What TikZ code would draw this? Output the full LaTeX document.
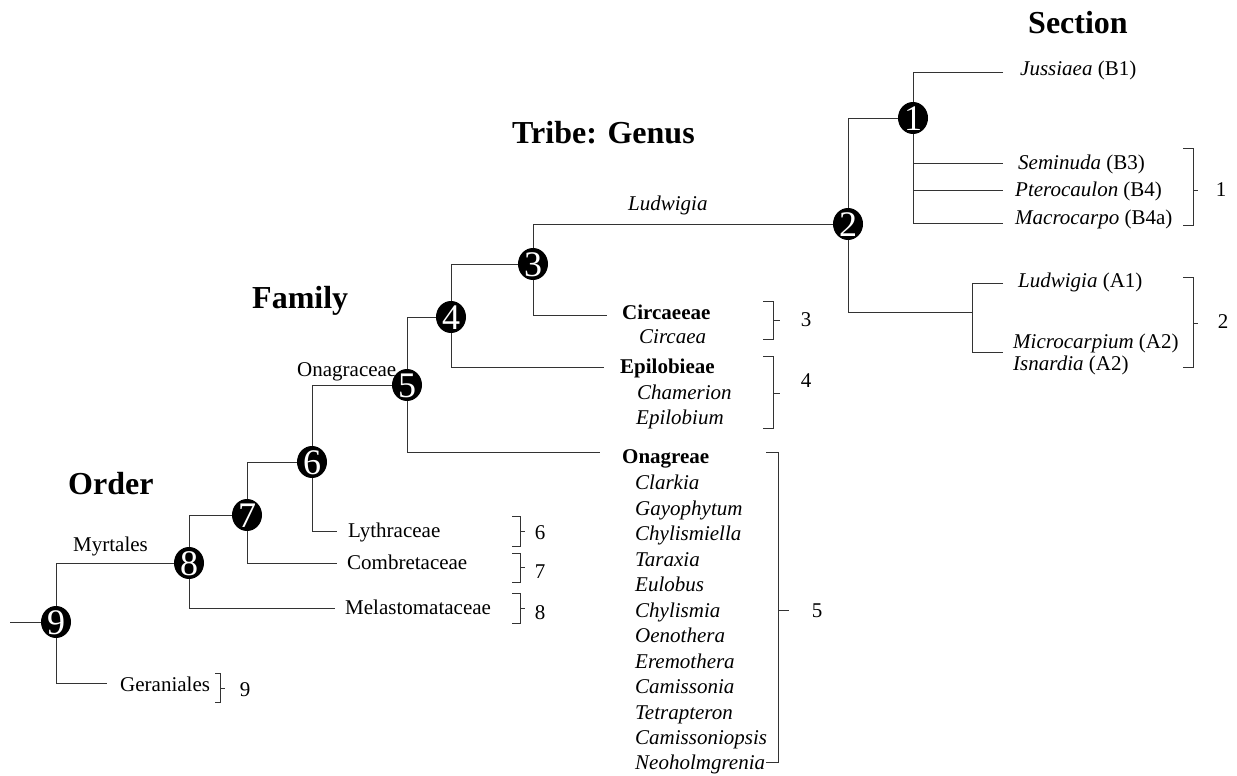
\documentclass[tikz,border=0pt]{standalone}
\usepackage{fontspec}
\setmainfont{Liberation Serif}
\usetikzlibrary{shapes.geometric}
\newcommand\cnum[1]{\smash{\makebox[0pt]{\raisebox{-0.34em}{#1}}}}
\begin{document}
\begin{tikzpicture}[x=1pt,y=-1pt,
  cl/.style={ellipse, fill=black, minimum width=30pt, minimum height=32pt, inner sep=0pt, text=white, font=\fontsize{36}{36}\selectfont},
  lab/.style={anchor=west, inner sep=0pt, text height=13.9pt, text depth=0pt, font=\fontsize{21}{25}\selectfont},
  labi/.style={lab, font=\fontsize{21}{25}\selectfont\itshape},
  labb/.style={lab, font=\fontsize{21}{25}\selectfont\bfseries},
  head/.style={lab, text height=21pt, font=\fontsize{32}{36}\selectfont\bfseries},
  numl/.style={anchor=center, inner sep=0pt, text height=14pt, text depth=0pt, font=\fontsize{21}{25}\selectfont},
  edge/.style={draw=black!80, line width=1pt},
  brk/.style={draw=black!80, line width=0.9pt}]
\useasboundingbox (0,0) rectangle (1237,776);

% headings
\node[head] (hsec) at (1028,23) {Section};
\node[head] (htri) at (512,133) {Tribe: Genus};
\node[head] (hfam) at (252,298) {Family};
\node[head] (hord) at (68,484) {Order};

% clade nodes
\node[cl] (n1) at (913,118) {\cnum{1}};
\node[cl] (n2) at (848,224) {\cnum{2}};
\node[cl] (n3) at (533,264) {\cnum{3}};
\node[cl] (n4) at (451,317) {\cnum{4}};
\node[cl] (n5) at (407,385) {\cnum{5}};
\node[cl] (n6) at (312,462) {\cnum{6}};
\node[cl] (n7) at (247,515) {\cnum{7}};
\node[cl] (n8) at (189,563) {\cnum{8}};
\node[cl] (n9) at (56,622) {\cnum{9}};

% branch ends
\coordinate (r0) at (10,622);
\coordinate (e9) at (107,683);
\coordinate (e8) at (335,608);
\coordinate (e7) at (337,563);
\coordinate (e6) at (337,531);
\coordinate (e5) at (600,452);
\coordinate (e4) at (604,367);
\coordinate (e3) at (607,315);
\coordinate (jA) at (972,312);
\coordinate (a1e) at (1003,283);
\coordinate (a2e) at (1003,352);
\coordinate (b1e) at (1003,73);
\coordinate (b3e) at (1003,163);
\coordinate (b4e) at (1003,190);
\coordinate (b4ae) at (1003,223);

% edges
\draw[edge] (r0) -- (n9);
\draw[edge] (n9) |- (n8);
\draw[edge] (n9) |- (e9);
\draw[edge] (n8) |- (n7);
\draw[edge] (n8) |- (e8);
\draw[edge] (n7) |- (n6);
\draw[edge] (n7) |- (e7);
\draw[edge] (n6) |- (n5);
\draw[edge] (n6) |- (e6);
\draw[edge] (n5) |- (n4);
\draw[edge] (n5) |- (e5);
\draw[edge] (n4) |- (n3);
\draw[edge] (n4) |- (e4);
\draw[edge] (n3) |- (n2);
\draw[edge] (n3) |- (e3);
\draw[edge] (n2) |- (n1);
\draw[edge] (n2) |- (jA);
\draw[edge] (a1e) -| (jA) |- (a2e);
\draw[edge] (b1e) -| (n1);
\draw[edge] (n1) |- (b3e);
\draw[edge] (n1) |- (b4e);
\draw[edge] (n1) |- (b4ae);

% branch labels
\node[lab] (lmyr) at (73,545) {Myrtales};
\node[lab] (lona) at (297,370) {Onagraceae};
\node[labi] (llud) at (628,204) {Ludwigia};

% leaves
\node[lab] (tger) at (120,685) {Geraniales};
\node[lab] (tmel) at (345,608) {Melastomataceae};
\node[lab] (tcom) at (347,563) {Combretaceae};
\node[lab] (tlyt) at (348,531) {Lythraceae};

\node[labb] (tcirc) at (622,313) {Circaeeae};
\node[labi] (tcir) at (639,337) {Circaea};
\node[labb] (tepi) at (620,367) {Epilobieae};
\node[labi] (tcha) at (637,393) {Chamerion};
\node[labi] (tepb) at (636,418) {Epilobium};

\node[labb] (tona) at (622,457) {Onagreae};
\foreach \t [count=\i from 0] in {Clarkia,Gayophytum,Chylismiella,Taraxia,Eulobus,Chylismia,Oenothera,Eremothera,Camissonia,Tetrapteron,Camissoniopsis,Neoholmgrenia}
  \node[labi] (tg\i) at (635,{483+25.45*\i}) {\t};

\node[lab] (tjus) at (1020,69) {\textit{Jussiaea} (B1)};
\node[lab] (tsem) at (1018,163) {\textit{Seminuda} (B3)};
\node[lab] (tpte) at (1015,190) {\textit{Pterocaulon} (B4)};
\node[lab] (tmac) at (1015,218) {\textit{Macrocarpo} (B4a)};
\node[lab] (tlud) at (1018,281) {\textit{Ludwigia} (A1)};
\node[lab] (tmic) at (1013,342) {\textit{Microcarpium} (A2)};
\node[lab] (tisn) at (1013,364) {\textit{Isnardia} (A2)};

% brackets
\draw[brk] (215,673) -- (220,673) -- (220,702) -- (215,702) (220,688) -- (225,688);
\draw[brk] (512,593) -- (520,593) -- (520,623) -- (512,623) (520,608) -- (525,608);
\draw[brk] (512,553) -- (520,553) -- (520,582) -- (512,582) (520,567) -- (525,567);
\draw[brk] (512,516) -- (520,516) -- (520,546) -- (512,546) (520,531) -- (525,531);
\draw[brk] (763,301) -- (773,301) -- (773,339) -- (763,339) (773,320) -- (780,320);
\draw[brk] (763,356) -- (773,356) -- (773,428) -- (763,428) (773,393) -- (780,393);
\draw[brk] (766,452) -- (778,452) -- (778,762) -- (766,762) (778,610) -- (789,610);
\draw[brk] (1183,148) -- (1193,148) -- (1193,225) -- (1183,225) (1193,190) -- (1198,190);
\draw[brk] (1183,277) -- (1193,277) -- (1193,367) -- (1183,367) (1193,323) -- (1198,323);

% bracket numbers
\node[numl] (k9) at (245,689) {9};
\node[numl] (k8) at (540,612) {8};
\node[numl] (k7) at (540,571) {7};
\node[numl] (k6) at (540,532) {6};
\node[numl] (k3) at (806,319) {3};
\node[numl] (k4) at (806,380) {4};
\node[numl] (k5) at (817,610) {5};
\node[numl] (k1) at (1221,189) {1};
\node[numl] (k2) at (1223,321) {2};
\end{tikzpicture}
\end{document}
